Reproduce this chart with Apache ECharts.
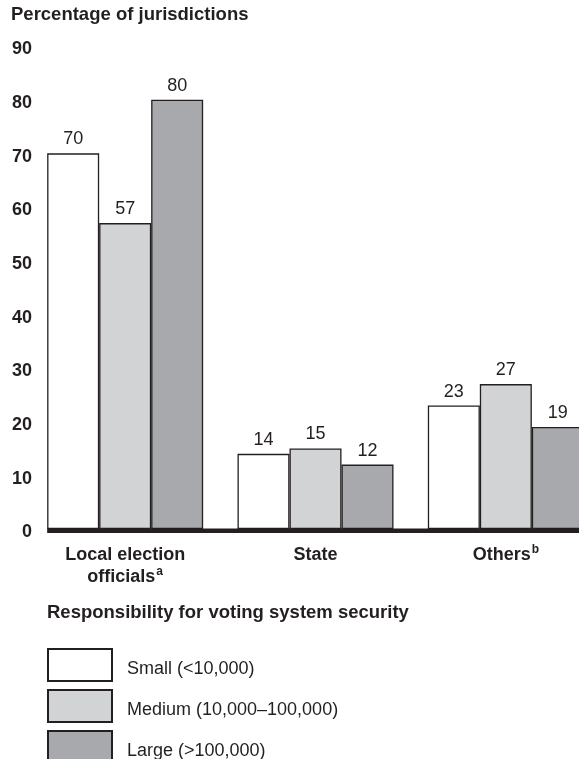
<!DOCTYPE html>
<html>
<head>
<meta charset="utf-8">
<script src="https://cdn.jsdelivr.net/npm/echarts@6/dist/echarts.min.js"></script>
<style>
html,body{margin:0;padding:0;background:#fff;}
#chart{width:579px;height:759px;}
</style>
</head>
<body>
<div id="chart"></div>
<script>
var categories = ['Local election officials', 'State', 'Others'];
var categorySup = ['a', '', 'b'];
var seriesNames = ['Small (<10,000)', 'Medium (10,000\u2013100,000)', 'Large (>100,000)'];
var smallValues = [70, 14, 23];
var mediumValues = [57, 15, 27];
var largeValues = [80, 12, 19];
var yTicks = [0, 10, 20, 30, 40, 50, 60, 70, 80, 90];

var FONT = '"Liberation Sans", Arial, Helvetica, sans-serif';
var INK = '#231f20';
var FS = 18;
var TFS = 18.5;
var fills = ['#ffffff', '#d1d3d4', '#a7a9ac'];
var valueSets = [smallValues, mediumValues, largeValues];

var chart = echarts.init(document.getElementById('chart'), null, {renderer: 'canvas'});

var series = seriesNames.map(function (name, i) {
  return {
    name: name,
    type: 'bar',
    data: valueSets[i],
    barWidth: 52,
    barGap: '0%',
    itemStyle: {color: fills[i], borderColor: INK, borderWidth: 1.3},
    label: {
      show: true, position: 'top', distance: 5,
      fontFamily: FONT, fontSize: FS, color: INK
    }
  };
});

chart.setOption({
  animation: false,
  backgroundColor: '#ffffff',
  title: [
    {text: 'Percentage of jurisdictions', left: 11, top: 5, padding: 0,
     textStyle: {fontFamily: FONT, fontSize: TFS, fontWeight: 'bold', color: INK}},
    {text: 'Responsibility for voting system security', left: 47, top: 603, padding: 0,
     textStyle: {fontFamily: FONT, fontSize: TFS, fontWeight: 'bold', color: INK}}
  ],
  legend: {
    orient: 'vertical', left: 47, top: 648, height: 300, padding: 0,
    itemWidth: 64, itemHeight: 32, itemGap: 7,
    icon: 'rect',
    formatter: function (name) { return '{t|' + name + '}'; },
    textStyle: {
      fontFamily: FONT, fontSize: FS, color: INK,
      rich: {t: {fontFamily: FONT, fontSize: FS, color: INK, padding: [8, 0, 0, 10]}}
    },
    data: seriesNames,
    selectedMode: false
  },
  grid: {left: 30, top: 46, right: -22, height: 483, containLabel: false, outerBoundsMode: 'none'},
  xAxis: {
    type: 'category',
    data: categories,
    axisLine: {show: false},
    axisTick: {show: false},
    axisLabel: {
      margin: 15,
      interval: 0,
      fontFamily: FONT, fontSize: FS, fontWeight: 'bold', color: INK,
      lineHeight: 22,
      formatter: function (v, idx) {
        var text = v === 'Local election officials' ? 'Local election\nofficials' : v;
        var sup = categorySup[idx];
        return sup ? text + '{sup|' + sup + '}' : text;
      },
      rich: {
        sup: {fontFamily: FONT, fontSize: 12, fontWeight: 'bold', color: INK, verticalAlign: 'top', lineHeight: 22, padding: [0, 0, 9, 1]}
      }
    }
  },
  yAxis: {
    type: 'value',
    min: yTicks[0], max: yTicks[yTicks.length - 1], interval: 10,
    axisLine: {show: false},
    axisTick: {show: false},
    splitLine: {show: false},
    axisLabel: {
      margin: -2,
      formatter: function (v) { return '{v|' + v + '}'; },
      rich: {
        v: {fontFamily: FONT, fontSize: FS, fontWeight: 'bold', color: INK, padding: [7, 0, 0, 0]}
      }
    }
  },
  series: series
});

// baseline drawn from library scales
var y0 = chart.convertToPixel({yAxisIndex: 0}, 0);
var xc = chart.convertToPixel({xAxisIndex: 0}, categories[0]);
var x0 = xc - 52 * 1.5;
chart.setOption({
  graphic: [{
    type: 'rect', z: 100,
    shape: {x: x0, y: y0 - 0.5, width: 579 - x0, height: 4.5},
    style: {fill: INK}
  }]
});
</script>
</body>
</html>
